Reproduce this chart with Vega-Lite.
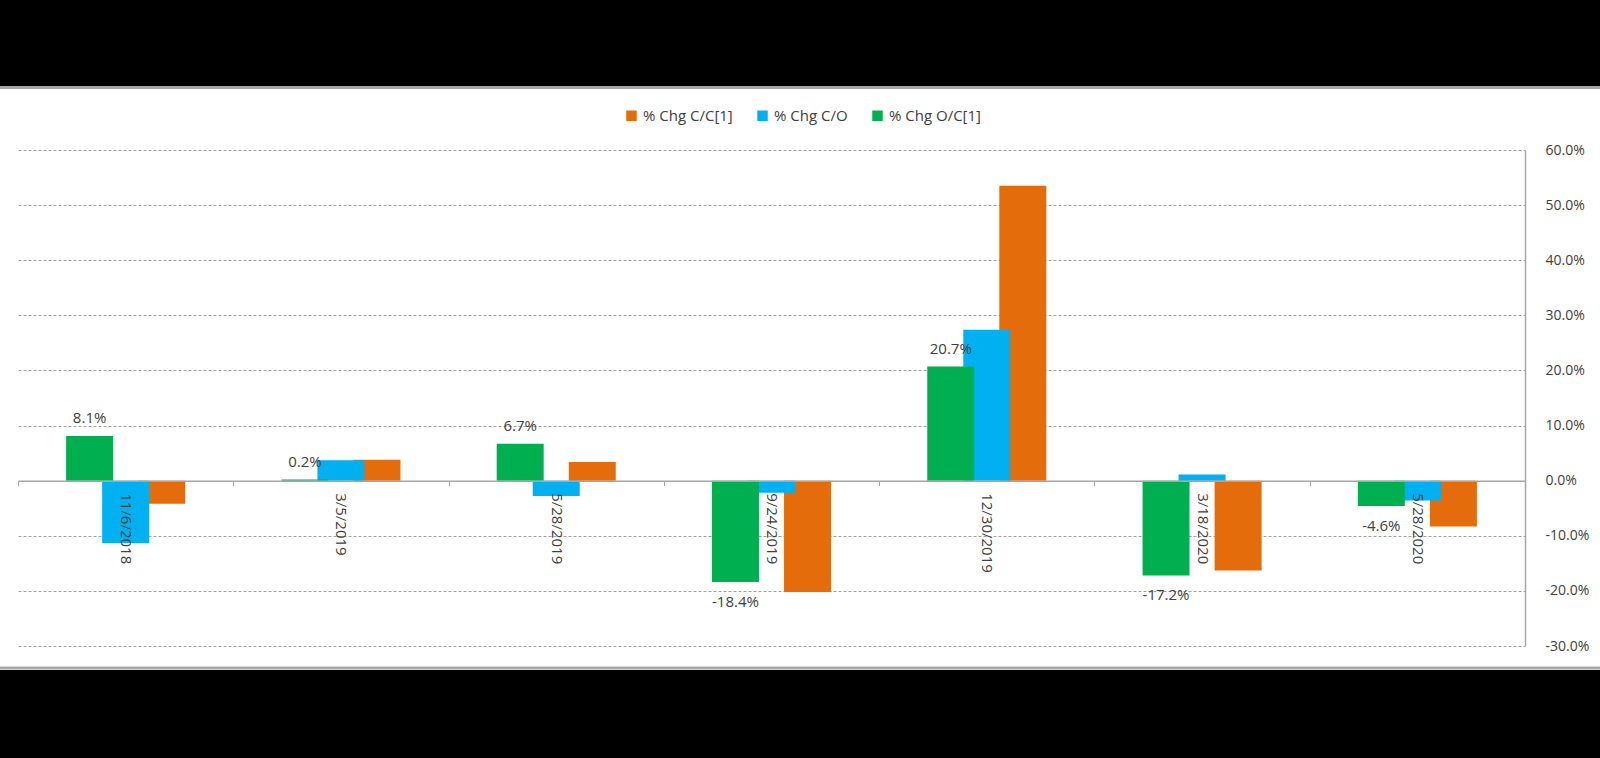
{
  "$schema": "https://vega.github.io/schema/vega-lite/v6.json",
  "width": 1600,
  "height": 758,
  "autosize": {"type": "none"},
  "padding": 0,
  "background": "white",
  "config": {
    "view": {"stroke": null},
    "font": "Open Sans",
    "locale": {"number": {"decimal": ".", "thousands": ",", "grouping": [3], "currency": ["$", ""], "minus": "-"}}
  },
  "resolve": {"axis": {"y": "independent"}},
  "data": {
    "values": [
      {"date": "11/6/2018", "series": "% Chg C/C[1]", "value": -0.042},
      {"date": "3/5/2019", "series": "% Chg C/C[1]", "value": 0.038},
      {"date": "5/28/2019", "series": "% Chg C/C[1]", "value": 0.034},
      {"date": "9/24/2019", "series": "% Chg C/C[1]", "value": -0.202},
      {"date": "12/30/2019", "series": "% Chg C/C[1]", "value": 0.535},
      {"date": "3/18/2020", "series": "% Chg C/C[1]", "value": -0.163},
      {"date": "5/28/2020", "series": "% Chg C/C[1]", "value": -0.083},
      {"date": "11/6/2018", "series": "% Chg C/O", "value": -0.113},
      {"date": "3/5/2019", "series": "% Chg C/O", "value": 0.037},
      {"date": "5/28/2019", "series": "% Chg C/O", "value": -0.028},
      {"date": "9/24/2019", "series": "% Chg C/O", "value": -0.022},
      {"date": "12/30/2019", "series": "% Chg C/O", "value": 0.274},
      {"date": "3/18/2020", "series": "% Chg C/O", "value": 0.011},
      {"date": "5/28/2020", "series": "% Chg C/O", "value": -0.036},
      {"date": "11/6/2018", "series": "% Chg O/C[1]", "value": 0.081},
      {"date": "3/5/2019", "series": "% Chg O/C[1]", "value": 0.002},
      {"date": "5/28/2019", "series": "% Chg O/C[1]", "value": 0.067},
      {"date": "9/24/2019", "series": "% Chg O/C[1]", "value": -0.184},
      {"date": "12/30/2019", "series": "% Chg O/C[1]", "value": 0.207},
      {"date": "3/18/2020", "series": "% Chg O/C[1]", "value": -0.172},
      {"date": "5/28/2020", "series": "% Chg O/C[1]", "value": -0.046}
    ]
  },
  "layer": [
    {
      "mark": {"type": "bar", "width": 47},
      "encoding": {
        "x": {
          "field": "date",
          "type": "nominal",
          "sort": null,
          "scale": {
            "domain": ["11/6/2018", "3/5/2019", "5/28/2019", "9/24/2019", "12/30/2019", "3/18/2020", "5/28/2020"],
            "range": [18, 1525],
            "paddingInner": 0,
            "paddingOuter": 0
          },
          "axis": {
            "orient": "bottom",
            "offset": -277.3,
            "tickBand": "extent",
            "labelAngle": 90,
            "labelAlign": "left",
            "labelBaseline": "middle",
            "labelPadding": 7,
            "tickSize": 5,
            "tickColor": "#a6a6a6",
            "domainColor": "#a6a6a6",
            "domainWidth": 1.5,
            "labelFontSize": 15,
            "labelColor": "#404040",
            "title": null,
            "grid": false,
            "zindex": 1
          }
        },
        "xOffset": {
          "field": "series",
          "type": "nominal",
          "scale": {
            "domain": ["% Chg O/C[1]", "% Chg C/O", "% Chg C/C[1]"],
            "range": [53.6, 161.7],
            "paddingInner": 0,
            "paddingOuter": 0
          }
        },
        "y": {
          "field": "value",
          "type": "quantitative",
          "scale": {"domain": [-0.3, 0.6], "range": [646, 150], "nice": false, "zero": false},
          "axis": {
            "orient": "left",
            "values": [-0.3, -0.2, -0.1, 0.1, 0.2, 0.3, 0.4, 0.5, 0.6],
            "grid": true,
            "gridDash": [3, 2],
            "gridColor": "#a0a0a0",
            "gridWidth": 1,
            "domain": false,
            "ticks": false,
            "labels": false,
            "title": null,
            "zindex": 0
          }
        },
        "color": {
          "field": "series",
          "type": "nominal",
          "scale": {
            "domain": ["% Chg C/C[1]", "% Chg C/O", "% Chg O/C[1]"],
            "range": ["#E46C0A", "#00B0F0", "#00B050"]
          },
          "legend": {
            "orient": "none",
            "legendX": 624,
            "legendY": 108,
            "direction": "horizontal",
            "title": null,
            "symbolType": "square",
            "symbolSize": 110,
            "symbolStrokeWidth": 0,
            "labelFontSize": 15,
            "labelColor": "#404040",
            "columnPadding": 22,
            "labelOffset": 4
          }
        }
      }
    },
    {
      "transform": [{"filter": "datum.series === '% Chg O/C[1]' && datum.value >= 0"}],
      "mark": {"type": "text", "baseline": "alphabetic", "dy": -13, "fontSize": 15, "color": "#404040"},
      "encoding": {
        "x": {"field": "date", "type": "nominal", "sort": null},
        "xOffset": {"field": "series", "type": "nominal"},
        "y": {
          "field": "value",
          "type": "quantitative",
          "axis": {
            "orient": "right",
            "offset": -75,
            "values": [-0.3, -0.2, -0.1, 0, 0.1, 0.2, 0.3, 0.4, 0.5, 0.6],
            "format": ".1%",
            "grid": false,
            "domain": true,
            "domainColor": "#a6a6a6",
            "domainWidth": 1.5,
            "ticks": false,
            "labelPadding": 20,
            "labelFontSize": 14,
            "labelColor": "#404040",
            "title": null
          }
        },
        "text": {"field": "value", "type": "quantitative", "format": ".1%"}
      }
    },
    {
      "transform": [{"filter": "datum.series === '% Chg O/C[1]' && datum.value < 0"}],
      "mark": {"type": "text", "baseline": "top", "dy": 13, "fontSize": 15, "color": "#404040"},
      "encoding": {
        "x": {"field": "date", "type": "nominal", "sort": null},
        "xOffset": {"field": "series", "type": "nominal"},
        "y": {"field": "value", "type": "quantitative", "axis": null},
        "text": {"field": "value", "type": "quantitative", "format": ".1%"}
      }
    },
    {
      "data": {"values": [{}]},
      "mark": {"type": "rect", "color": "black"},
      "encoding": {"y": {"datum": 1.0, "type": "quantitative", "axis": null}, "y2": {"datum": 0.7161}}
    },
    {
      "data": {"values": [{}]},
      "mark": {"type": "rect", "color": "black"},
      "encoding": {"y": {"datum": -0.3436, "type": "quantitative", "axis": null}, "y2": {"datum": -0.7}}
    },
    {
      "data": {"values": [{}]},
      "mark": {"type": "rule", "color": "#a8a8a8", "strokeWidth": 3},
      "encoding": {"y": {"datum": 0.7134, "type": "quantitative", "axis": null}}
    },
    {
      "data": {"values": [{}]},
      "mark": {"type": "rule", "color": "#a8a8a8", "strokeWidth": 3},
      "encoding": {"y": {"datum": -0.3399, "type": "quantitative", "axis": null}}
    }
  ]
}
